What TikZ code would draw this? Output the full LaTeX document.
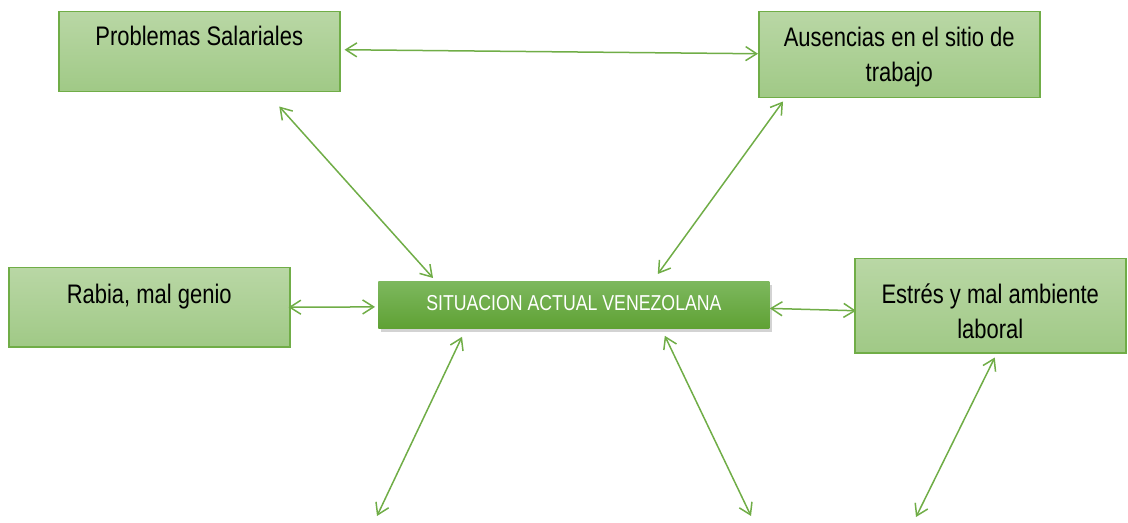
\documentclass[tikz,border=0pt]{standalone}
\usepackage{fontspec}
\setmainfont{Liberation Sans}[FakeStretch=0.82]
\usetikzlibrary{arrows.meta,shadows}

\definecolor{leaf}{RGB}{112,173,71}
\definecolor{leaftop}{RGB}{185,215,165}
\definecolor{leafbot}{RGB}{160,201,134}
\definecolor{grasstop}{RGB}{125,184,94}
\definecolor{grassbot}{RGB}{95,161,52}

\begin{document}
\begin{tikzpicture}[x=0.5pt, y=-0.5pt,
		>={Straight Barb[length=5.5pt,width=7pt]},
		box/.style={draw=leaf, line width=0.75pt, top color=leaftop, bottom color=leafbot,
			anchor=north west, inner sep=0pt, align=flush center,
			font=\fontsize{13.4}{17.5}\selectfont},
		mainbox/.style={top color=grasstop, bottom color=grassbot, text=white,
			anchor=north west, inner sep=0pt, align=flush center,
			drop shadow={shadow xshift=1.5pt, shadow yshift=-2pt, opacity=0.35},
			font=\fontsize{10.8}{12}\selectfont},
		link/.style={<->, draw=leaf, line width=0.75pt}]
			\useasboundingbox (0,0) rectangle (1128,523);

			% Boxes
			\node[box, text width=140.5pt, text height=17pt, text depth=23pt] (prob) at (58,11) {Problemas Salariales};
			\node[box, text width=140.5pt, text height=17.5pt, text depth=25.5pt] (aus) at (758,11) {Ausencias en el sitio de\\trabajo};
			\node[box, text width=140.5pt, text height=18pt, text depth=21.5pt] (rab) at (8,267) {Rabia, mal genio};
			\node[box, text width=135.5pt, text height=22.5pt, text depth=24.5pt] (est) at (854,258) {Estrés y mal ambiente\\laboral};
			\node[mainbox, text width=195.5pt, text height=14.5pt, text depth=9pt] (sit) at (378,281) {SITUACION ACTUAL VENEZOLANA};

			% Free ends
			\coordinate (fin1) at (377,516);
			\coordinate (fin2) at (751,516);
			\coordinate (fin3) at (916,517);

			% Arrows
			\draw[link] ([xshift=2pt,yshift=1pt]prob.east) -- ([yshift=0.5pt]aus.west);
			\draw[link] ([xshift=40pt,yshift=-7pt]prob.south) -- ([xshift=27.5pt,yshift=1.5pt]sit.north west);
			\draw[link] ([xshift=12.5pt,yshift=-1.5pt]aus.south west) -- ([xshift=-56pt,yshift=3.5pt]sit.north east);
			\draw[link] ([xshift=-1pt]rab.east) -- ([xshift=-1.5pt,yshift=-1pt]sit.west);
			\draw[link] ([yshift=-1.75pt]sit.east) -- ([xshift=1pt,yshift=-2.5pt]est.west);
			\draw[link] ([xshift=42pt,yshift=-4pt]sit.south west) -- (fin1);
			\draw[link] ([xshift=-52.5pt,yshift=-3.5pt]sit.south east) -- (fin2);
			\draw[link] ([xshift=2.25pt,yshift=-2pt]est.south) -- (fin3);
		\end{tikzpicture}
\end{document}
